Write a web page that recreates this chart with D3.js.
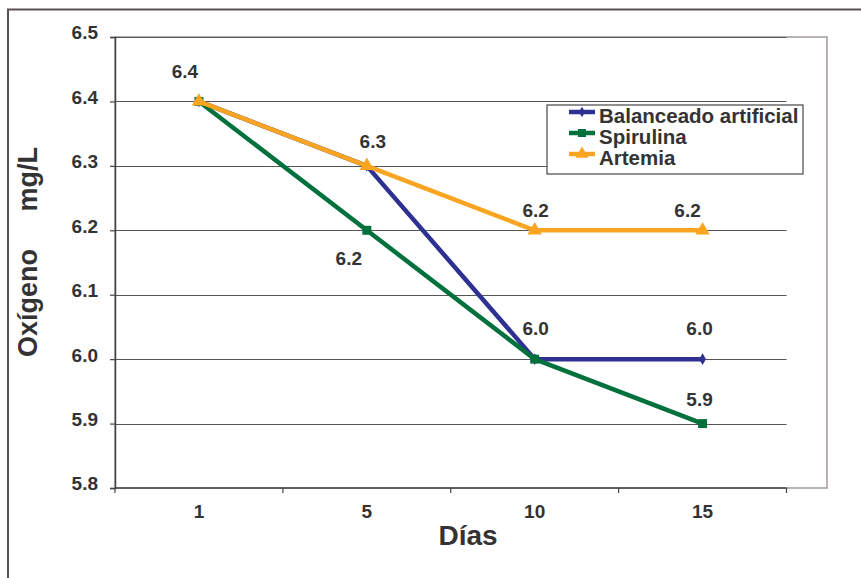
<!DOCTYPE html>
<html>
<head>
<meta charset="utf-8">
<script src="https://cdn.jsdelivr.net/npm/d3@7"></script>
<style>
  html, body { margin: 0; padding: 0; background: #fff; }
  svg { display: block; font-family: "Liberation Sans", Arial, Helvetica, sans-serif; }
</style>
</head>
<body>
<svg id="chart" width="861" height="578"></svg>
<script>
// Oxygen (mg/L) by sampling day for three feed treatments
const days = ["1", "5", "10", "15"];
const balanceado = [6.4, 6.3, 6.0, 6.0];
const spirulina  = [6.4, 6.2, 6.0, 5.9];
const artemia    = [6.4, 6.3, 6.2, 6.2];
const yTicks = [5.8, 5.9, 6.0, 6.1, 6.2, 6.3, 6.4, 6.5];
const seriesNames = ["Balanceado artificial", "Spirulina", "Artemia"];

// value labels: [day index, value, dx, dy]
const valueLabels = [
  [0, 6.4, -14, -23],
  [1, 6.3, 6, -18],
  [1, 6.2, -18, 35],
  [2, 6.2, 1, -13],
  [3, 6.2, -15, -13],
  [2, 6.0, 1, -24],
  [3, 6.0, -3, -24],
  [3, 5.9, -3, -18]
];

const svg = d3.select("#chart");
const textColor = "#333333";
const plot = { left: 115, right: 786.5, top: 37, bottom: 488 };

const x = d3.scaleBand().domain(days).range([plot.left, plot.right]);
const y = d3.scaleLinear().domain([5.8, 6.5]).range([plot.bottom, plot.top]);

// outer chart frame
svg.append("path")
  .attr("d", "M8,590 L8,9.5 L870,9.5")
  .attr("fill", "none").attr("stroke", "#5a5252").attr("stroke-width", 2);

// plot area frame
svg.append("rect")
  .attr("x", plot.left).attr("y", plot.top)
  .attr("width", 827 - plot.left).attr("height", plot.bottom - plot.top)
  .attr("fill", "none").attr("stroke", "#a39a9a").attr("stroke-width", 1.5);

// horizontal gridlines
svg.append("g").selectAll("line").data(yTicks.slice(1)).join("line")
  .attr("x1", plot.left).attr("x2", plot.right)
  .attr("y1", d => Math.round(y(d)) + 0.5).attr("y2", d => Math.round(y(d)) + 0.5)
  .attr("stroke", "#555").attr("stroke-width", 1.2);

// y axis
const yAxis = svg.append("g")
  .attr("transform", `translate(${plot.left},0)`)
  .call(d3.axisLeft(y).tickValues(yTicks).tickFormat(d3.format(".1f")).tickSize(5).tickPadding(12));
yAxis.select(".domain").attr("stroke", "#444").attr("stroke-width", 1.5);
yAxis.selectAll(".tick line").attr("stroke", "#444").attr("stroke-width", 1.2);
yAxis.selectAll(".tick text")
  .attr("fill", textColor).attr("font-size", 19).attr("font-weight", "bold")
  .attr("dy", "0.1em");

// x axis with tick marks on band boundaries
const xAxisG = svg.append("g").attr("transform", `translate(0,${plot.bottom})`);
xAxisG.append("line")
  .attr("x1", plot.left).attr("x2", plot.right)
  .attr("stroke", "#444").attr("stroke-width", 1.5);
const bounds = days.map(d => x(d)).concat([x(days[days.length - 1]) + x.bandwidth()]);
xAxisG.selectAll("line.tk").data(bounds).join("line").attr("class", "tk")
  .attr("x1", d => d).attr("x2", d => d).attr("y1", 0).attr("y2", 5)
  .attr("stroke", "#444").attr("stroke-width", 1.2);
xAxisG.selectAll("text").data(days).join("text")
  .attr("x", d => x(d) + x.bandwidth() / 2).attr("y", 30)
  .attr("text-anchor", "middle").attr("fill", textColor)
  .attr("font-size", 19).attr("font-weight", "bold").text(d => d);

// axis titles
svg.append("text")
  .attr("x", 468).attr("y", 545).attr("text-anchor", "middle")
  .attr("fill", textColor).attr("font-size", 28).attr("font-weight", "bold")
  .text("Días");
svg.append("text")
  .attr("transform", "translate(37,252) rotate(-90)")
  .attr("text-anchor", "middle").attr("xml:space", "preserve")
  .style("white-space", "pre")
  .attr("fill", textColor).attr("font-size", 27).attr("font-weight", "bold")
  .text("Oxígeno     mg/L");

// series
const cx = d => x(d) + x.bandwidth() / 2;
const series = [
  { name: seriesNames[0], values: balanceado, color: "#2e3192", marker: d3.symbolDiamond, size: 40 },
  { name: seriesNames[1], values: spirulina,  color: "#00703c", marker: d3.symbolSquare,  size: 80 },
  { name: seriesNames[2], values: artemia,    color: "#f9a521", marker: d3.symbolTriangle, size: 90 }
];
const line = d3.line().x((v, i) => cx(days[i])).y(v => y(v));

series.forEach(s => {
  const g = svg.append("g");
  g.append("path").datum(s.values)
    .attr("d", line).attr("fill", "none")
    .attr("stroke", s.color).attr("stroke-width", 4.5).attr("stroke-linejoin", "round");
  g.selectAll("path.mk").data(s.values).join("path").attr("class", "mk")
    .attr("transform", (v, i) => `translate(${cx(days[i])},${y(v)})`)
    .attr("d", d3.symbol().type(s.marker).size(s.size))
    .attr("fill", s.color);
});

// value labels
svg.append("g").selectAll("text").data(valueLabels).join("text")
  .attr("x", d => cx(days[d[0]]) + d[2])
  .attr("y", d => y(d[1]) + d[3])
  .attr("text-anchor", "middle").attr("fill", textColor)
  .attr("font-size", 19).attr("font-weight", "bold")
  .text(d => d3.format(".1f")(d[1]));

// legend
const legend = svg.append("g");
legend.append("rect")
  .attr("x", 547).attr("y", 105).attr("width", 256).attr("height", 69)
  .attr("fill", "#fff").attr("stroke", "#555").attr("stroke-width", 1.3);
series.forEach((s, i) => {
  const base = 123 + i * 21;
  const ly = base - 11;
  legend.append("line")
    .attr("x1", 569).attr("x2", 595).attr("y1", ly).attr("y2", ly)
    .attr("stroke", s.color).attr("stroke-width", 4.5);
  legend.append("path")
    .attr("transform", `translate(582,${ly})`)
    .attr("d", d3.symbol().type(s.marker).size(s.size * 0.8))
    .attr("fill", s.color);
  legend.append("text")
    .attr("x", 599).attr("y", base)
    .attr("fill", textColor).attr("font-size", 20.5).attr("font-weight", "bold")
    .text(s.name);
});
</script>
</body>
</html>
